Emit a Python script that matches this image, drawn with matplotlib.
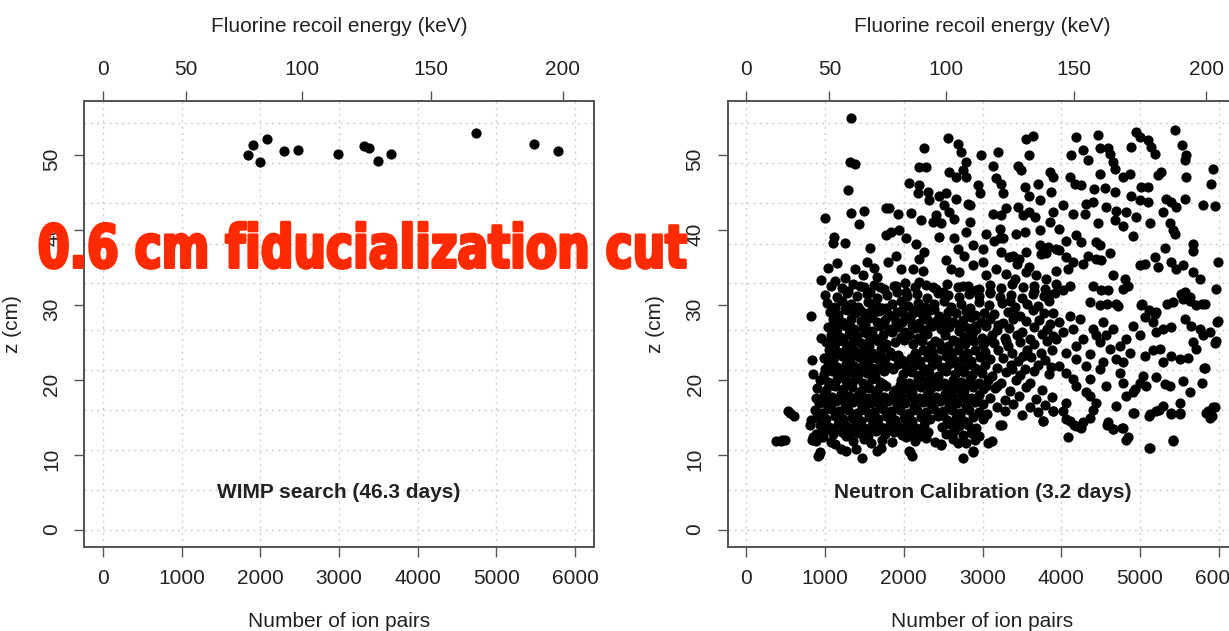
import matplotlib
matplotlib.use("Agg")
import matplotlib.pyplot as plt
import matplotlib.transforms as mtransforms
from matplotlib.textpath import TextPath
from matplotlib.patches import PathPatch
from matplotlib.font_manager import FontProperties
import numpy as np

# ---- data ----
wimp_ions = [1850, 1911, 2001, 2081, 2303, 2478, 2981, 3318, 3384, 3494, 3660, 4742, 5481, 5787]
wimp_z = [50.0, 51.4, 49.1, 52.1, 50.5, 50.7, 50.2, 51.2, 51.0, 49.2, 50.2, 53.0, 51.5, 50.5]

# top axis: recoil energy labels and the ion-pair positions where they sit
recoil_kev = [0, 50, 100, 150, 200]
recoil_ions = [0, 1055, 2531, 4163, 5845]

ion_ticks = [0, 1000, 2000, 3000, 4000, 5000, 6000]
z_ticks = [0, 10, 20, 30, 40, 50]
grid_z = [0, 5.34, 10.68, 16.0, 21.36, 26.7, 32.9, 38.2, 43.6, 48.9, 54.3]

wimp_label = "WIMP search (46.3 days)"
neutron_label = "Neutron Calibration (3.2 days)"
banner = "0.6 cm fiducialization cut"

# neutron calibration events (ion pairs, z cm)
neutron_upper_left = [
    (1325, 54.9), (1313, 49.1), (1376, 48.8), (1291, 45.4), (995, 41.6), (1325, 42.3),
    (1495, 42.6), (1427, 40.8), (1779, 42.9), (1109, 39.1), (1101, 38.3), (1257, 38.3),
    (1575, 37.6), (1779, 39.4), (1037, 34.9), (1156, 35.6), (1385, 34.8), (1533, 35.8),
    (1660, 33.7), (944, 33.4), (1291, 31.9), (1440, 32.6), (1567, 31.7), (1694, 32.4),
    (1250, 33.6), (1480, 34.0), (1120, 33.2), (1620, 35.0),
]
neutron_upper_mid = [
    (2559, 52.3), (2686, 51.5), (2729, 50.4), (2262, 51.0), (2983, 50.0), (3195, 50.4),
    (3555, 52.2), (3640, 52.6), (3597, 50.0), (2792, 49.1), (2750, 48.0), (2665, 47.1),
    (2580, 47.8), (2792, 47.1), (2199, 48.4), (2284, 48.4), (3131, 48.6), (3449, 48.6),
    (3491, 48.0), (3852, 47.8), (3894, 47.1), (3174, 46.9), (3237, 46.2), (3258, 44.9),
    (2940, 46.0), (2962, 44.9), (2072, 46.3), (2199, 46.0), (2178, 44.9), (2305, 45.1),
    (2326, 44.0), (2453, 44.6), (2538, 44.9), (2665, 44.2), (2813, 43.5), (3534, 45.7),
    (3703, 46.1), (3597, 44.6), (3725, 44.0), (3873, 45.1), (1817, 42.9), (1923, 42.2),
    (2093, 42.3), (2220, 41.3), (2411, 42.0), (2474, 40.9), (2517, 43.3), (2580, 42.4),
    (2644, 41.5), (2835, 43.3), (2835, 41.1), (2792, 39.7), (3131, 42.2), (3237, 42.0),
    (3301, 42.9), (3449, 43.1), (3513, 42.0), (3597, 42.4), (3661, 41.7), (3216, 40.2),
    (3258, 38.9), (3428, 39.5), (3534, 39.7), (3725, 40.0), (3852, 41.1), (3894, 42.4),
    (1839, 39.7), (1945, 40.0), (2029, 38.9), (2156, 38.2), (2262, 37.1), (2199, 36.2),
    (2368, 41.1), (2453, 39.1), (2644, 38.9), (2686, 37.5), (2771, 36.6), (2877, 38.0),
    (3004, 37.5), (1796, 35.7), (1902, 36.6), (1966, 34.8), (2114, 34.8), (2241, 34.6),
    (2538, 36.0), (2601, 34.8), (2707, 34.4), (2877, 35.3), (3004, 35.7), (3046, 34.0),
    (3216, 38.9), (3237, 37.1), (3385, 36.6), (3470, 36.2), (3555, 37.1), (3725, 38.0),
    (3809, 36.9), (3936, 37.5), (3174, 34.8), (3301, 34.2), (3407, 33.5), (3555, 34.4),
    (3682, 34.0), (3809, 33.5), (3936, 34.6), (2199, 33.1), (2368, 32.4), (2495, 31.7),
    (2750, 32.6), (2919, 32.0), (3089, 31.7), (1902, 32.6), (2029, 31.7), (3047, 39.5),
    (3146, 38.6), (3343, 36.4), (3442, 35.5), (3590, 35.1), (3738, 36.8), (3837, 37.7),
]
neutron_upper_right = [
    (4190, 52.4), (4466, 52.7), (4275, 50.7), (4127, 50.0), (4339, 49.4), (4487, 50.9),
    (4593, 51.0), (4614, 50.1), (4953, 53.1), (4996, 52.4), (4890, 51.1), (5101, 52.0),
    (5144, 51.1), (5186, 50.2), (5440, 53.4), (5538, 51.3), (5589, 50.0), (5568, 49.3),
    (4656, 49.1), (4678, 48.2), (4784, 47.1), (4868, 47.5), (4487, 47.5), (4106, 47.1),
    (4169, 46.2), (4254, 46.0), (5271, 47.8), (5228, 47.3), (5589, 47.1), (5928, 48.2),
    (5907, 46.1), (4423, 45.5), (4551, 45.6), (4678, 45.1), (4890, 44.6), (5017, 45.7),
    (5101, 45.7), (4996, 44.0), (5101, 43.8), (5335, 44.2), (5398, 43.7), (5462, 43.1),
    (5568, 44.2), (5801, 43.3), (5949, 43.2), (4021, 43.3), (4317, 43.5), (4402, 43.7),
    (4572, 43.1), (4699, 42.6), (4826, 42.4), (4953, 41.7), (4148, 42.2), (4296, 42.2),
    (4466, 41.0), (4678, 41.3), (4784, 40.6), (5123, 41.0), (5292, 42.4), (5377, 40.9),
    (5419, 40.0), (5440, 39.5), (4911, 39.2), (3978, 40.2), (4063, 38.6), (4190, 39.3),
    (4254, 38.4), (4445, 38.4), (4487, 38.0), (4614, 36.9), (4339, 36.6), (4445, 36.2),
    (4508, 36.0), (3978, 37.3), (4063, 36.4), (4148, 35.7), (4275, 35.5), (4084, 34.8),
    (5313, 37.6), (5674, 38.2), (5674, 37.2), (5186, 36.4), (5228, 35.1), (4996, 35.4),
    (5059, 35.5), (5398, 35.7), (5462, 34.8), (5546, 35.3), (5674, 34.4), (5758, 33.5),
    (5992, 35.7), (4656, 34.0), (4805, 33.5), (4847, 32.6), (4784, 32.2), (4402, 32.6),
    (4508, 32.0), (4593, 32.0), (4106, 32.6), (4021, 32.0), (5568, 31.7), (5631, 31.1),
    (5970, 32.2), (5640, 30.6), (5788, 30.2), (5343, 30.2), (5516, 31.5),
]
neutron_band = [
    (1000, 31.4), (1150, 31.1), (1280, 31.6), (1400, 31.2), (1530, 31.5), (1660, 31.0),
    (1790, 31.4), (1910, 31.7), (2040, 31.2), (2170, 31.5), (2300, 31.0), (2430, 31.6),
    (2560, 31.3), (2700, 31.1), (2830, 31.5), (2960, 31.2), (3090, 31.6), (3220, 31.1),
    (3360, 31.4), (3500, 31.0), (3640, 31.5), (3780, 31.2), (3920, 31.6),
    (1080, 32.6), (1210, 32.3), (1350, 32.8), (1490, 32.4), (1620, 32.7), (1750, 32.2),
    (1880, 32.6), (2010, 32.9), (2140, 32.4), (2280, 32.7), (2410, 32.2), (2550, 32.8),
    (2690, 32.4), (2820, 32.6), (2950, 32.1), (3090, 32.7), (3230, 32.3), (3370, 32.8),
    (3510, 32.4), (3650, 32.6), (3800, 32.2), (3936, 32.8), (3837, 31.5),
]
neutron_core = [
    (1020, 30.3), (1130, 29.8), (1210, 30.5), (1330, 30.1), (1420, 29.7), (1540, 30.4),
    (1650, 30.0), (1720, 29.6), (1850, 30.2), (1960, 30.6), (2050, 29.9), (2180, 30.3),
    (2270, 29.7), (2390, 30.1), (2510, 30.5), (2600, 29.8), (2730, 30.2), (2840, 29.6),
    (2950, 30.4), (3080, 30.0), (3250, 30.3), (3410, 29.7), (3560, 30.2), (3700, 29.9),
    (3850, 30.5),
    (1060, 29.1), (1170, 28.7), (1280, 29.3), (1380, 28.9), (1490, 29.0), (1600, 28.6),
    (1690, 29.2), (1800, 28.8), (1910, 29.1), (2010, 28.5), (2120, 29.0), (2230, 28.8),
    (2330, 29.3), (2450, 28.6), (2560, 29.1), (2660, 28.9), (2790, 29.2), (2900, 28.7),
    (3020, 29.0), (3150, 28.8), (3330, 29.1), (3480, 28.6), (3640, 29.3), (3780, 28.9),
    (3900, 29.0),
    (817, 28.5), (1100, 28.1), (1220, 27.8), (1330, 28.2), (1450, 27.9), (1560, 28.3),
    (1660, 27.7), (1760, 28.0), (1870, 28.4), (1980, 27.8), (2080, 28.1), (2190, 27.6),
    (2300, 28.2), (2410, 27.9), (2530, 28.3), (2630, 27.7), (2750, 28.0), (2860, 28.4),
    (2980, 27.8), (3100, 28.1), (3260, 27.6), (3390, 28.2), (3550, 27.9), (3720, 28.0),
    (3860, 27.5),
    (1040, 27.1), (1150, 26.8), (1260, 27.3), (1370, 26.9), (1480, 27.0), (1590, 26.6),
    (1700, 27.2), (1810, 26.8), (1920, 27.1), (2020, 26.5), (2140, 27.0), (2250, 26.7),
    (2360, 27.2), (2470, 26.9), (2580, 27.1), (2700, 26.6), (2810, 27.0), (2920, 26.8),
    (3040, 27.2), (3190, 26.7), (3340, 27.0), (3500, 26.5), (3650, 27.1), (3820, 26.8),
    (952, 25.6), (1080, 26.1), (1190, 25.8), (1300, 26.2), (1410, 25.9), (1520, 26.3),
    (1630, 25.7), (1740, 26.0), (1850, 26.4), (1960, 25.8), (2070, 26.1), (2180, 25.7),
    (2290, 26.2), (2520, 26.0), (2760, 25.8), (2870, 26.2), (2990, 25.7), (3120, 26.1),
    (3280, 25.6), (3440, 26.0), (3600, 25.5), (3760, 26.2), (3900, 25.9),
    (1010, 25.1), (1120, 24.8), (1230, 25.2), (1340, 24.9), (1450, 25.0), (1560, 24.6),
    (1670, 25.2), (1780, 24.8), (1890, 25.1), (2120, 24.9), (2230, 25.2), (2340, 24.7),
    (2450, 25.0), (2560, 24.6), (2670, 25.1), (2780, 24.8), (2890, 25.2), (3000, 24.7),
    (3150, 25.0), (3320, 24.6), (3480, 25.1), (3650, 24.8), (3820, 25.3),
    (1050, 24.1), (1160, 23.8), (1270, 24.2), (1380, 23.9), (1490, 24.0), (1600, 23.6),
    (1710, 24.2), (1820, 23.8), (2140, 23.7), (2250, 24.1), (2360, 23.8), (2470, 24.2),
    (2580, 23.9), (2690, 24.0), (2800, 23.6), (2910, 24.1), (3030, 23.8), (3200, 24.0),
    (3380, 23.7), (3560, 24.1), (3740, 23.6), (3880, 24.0),
    (990, 23.0), (1100, 22.7), (1210, 23.2), (1320, 22.9), (1430, 23.1), (1540, 22.6),
    (1650, 23.0), (1760, 22.8), (1870, 23.2), (1980, 22.7), (2090, 23.0), (2200, 22.6),
    (2310, 23.1), (2420, 22.8), (2530, 23.2), (2640, 22.7), (2750, 23.0), (2860, 22.6),
    (2970, 23.1), (3100, 22.8), (3260, 23.0), (3450, 22.6), (3620, 23.1), (3800, 22.7),
    (838, 22.7), (1040, 22.1), (1150, 21.8), (1260, 22.2), (1370, 21.9), (1480, 22.0),
    (1590, 21.6), (1700, 22.1), (1810, 21.8), (1920, 22.2), (2030, 21.9), (2140, 22.0),
    (2250, 21.6), (2360, 22.1), (2470, 21.8), (2580, 22.2), (2690, 21.9), (2800, 22.0),
    (2910, 21.6), (3030, 22.1), (3180, 21.7), (3360, 22.0), (3540, 21.5), (3700, 22.1),
    (3870, 21.8),
    (846, 20.8), (980, 20.9), (1090, 21.2), (1200, 20.8), (1310, 21.1), (1420, 20.7),
    (1530, 21.0), (1640, 20.6), (1750, 21.2), (1990, 20.8), (2100, 21.1), (2210, 20.7),
    (2320, 21.0), (2430, 20.6), (2540, 21.2), (2650, 20.8), (2760, 21.1), (2870, 20.7),
    (2990, 21.0), (3120, 20.6), (3300, 21.1), (3480, 20.7), (3660, 21.2), (3840, 20.8),
    (930, 20.1), (1040, 19.8), (1150, 20.2), (1260, 19.9), (1370, 20.0), (1480, 19.6),
    (1590, 20.2), (1700, 19.8), (1960, 20.1), (2070, 19.7), (2180, 20.2), (2290, 19.9),
    (2400, 20.0), (2510, 19.6), (2620, 20.1), (2730, 19.8), (2840, 20.2), (2950, 19.7),
    (3070, 20.0), (3240, 19.6), (3420, 20.1), (3600, 19.7),
    (900, 19.0), (1010, 18.7), (1120, 19.2), (1230, 18.9), (1340, 19.1), (1450, 18.6),
    (1560, 19.0), (1670, 18.8), (1780, 19.2), (1890, 18.7), (2000, 19.0), (2110, 18.6),
    (2220, 19.1), (2330, 18.8), (2440, 19.2), (2550, 18.7), (2660, 19.0), (2770, 18.6),
    (2880, 19.1), (3000, 18.8), (3160, 19.0), (3350, 18.6), (3550, 19.1), (3760, 18.7),
    (880, 17.6), (980, 18.1), (1090, 17.8), (1200, 18.2), (1310, 17.9), (1420, 18.0),
    (1530, 17.6), (1640, 18.1), (1750, 17.8), (1860, 18.2), (1970, 17.9), (2080, 18.0),
    (2190, 17.6), (2300, 18.1), (2410, 17.8), (2520, 18.2), (2630, 17.9), (2740, 18.0),
    (2850, 17.6), (2960, 18.1), (3090, 17.7), (3280, 17.4), (3470, 17.9), (3680, 17.5),
    (3880, 17.8),
    (920, 17.0), (1030, 16.7), (1140, 17.2), (1250, 16.9), (1360, 17.1), (1470, 16.6),
    (1580, 17.0), (1690, 16.8), (1800, 17.2), (1910, 16.7), (2020, 17.0), (2130, 16.6),
    (2240, 17.1), (2350, 16.8), (2460, 17.2), (2570, 16.7), (2680, 17.0), (2790, 16.6),
    (2900, 17.1), (3010, 16.8), (3180, 16.5), (3390, 16.9), (3600, 16.4), (3800, 16.7),
    (870, 16.1), (960, 15.7), (1070, 16.2), (1180, 15.9), (1290, 16.0), (1400, 15.6),
    (1510, 16.1), (1620, 15.8), (1730, 16.2), (1840, 15.9), (1950, 16.0), (2060, 15.6),
    (2170, 16.1), (2280, 15.8), (2390, 16.2), (2500, 15.9), (2610, 16.0), (2720, 15.6),
    (2830, 16.1), (2950, 15.8), (3060, 15.5), (3280, 15.9), (3500, 15.4), (3700, 15.8),
    (3894, 15.9),
    (530, 15.9), (600, 15.3), (550, 15.7), (820, 14.7), (900, 15.1), (1010, 14.8),
    (1120, 15.2), (1230, 14.9), (1340, 15.0), (1450, 14.6), (1560, 15.1), (1670, 14.8),
    (1780, 15.2), (1890, 14.7), (2000, 15.0), (2110, 14.6), (2220, 15.1), (2330, 14.8),
    (2440, 15.2), (2550, 14.7), (2660, 15.0), (2770, 14.6), (2880, 15.1), (3000, 14.8),
    (3216, 14.1), (3767, 14.6),
    (804, 14.1), (940, 14.1), (1050, 13.8), (1160, 14.2), (1270, 13.9), (1380, 14.0),
    (1490, 13.6), (1600, 14.1), (1710, 13.8), (1820, 14.2), (1930, 13.9), (2040, 14.0),
    (2150, 13.6), (2260, 14.1), (2480, 13.8), (2590, 14.2), (2700, 13.9), (2810, 14.0),
    (2920, 13.6), (3245, 14.0),
    (880, 12.9), (990, 13.2), (1100, 12.8), (1210, 13.1), (1320, 12.7), (1430, 13.0),
    (1540, 12.6), (1650, 13.2), (1760, 12.8), (1870, 13.1), (1980, 12.7), (2090, 13.0),
    (2200, 12.6), (2310, 13.1), (2530, 12.8), (2640, 13.2), (2750, 12.7), (2860, 13.0),
    (2960, 12.6),
    (380, 11.9), (454, 12.0), (444, 11.9), (486, 12.1), (849, 12.4), (838, 12.1),
    (889, 11.9), (974, 12.4), (1080, 11.8), (1270, 12.6), (1350, 11.9), (1500, 12.2),
    (1580, 11.7), (1720, 12.1), (1850, 11.8), (2029, 12.4), (2140, 11.9), (2280, 12.3),
    (2400, 11.8), (2479, 11.4), (2620, 12.2), (2686, 11.7), (2792, 11.7), (2900, 12.1),
    (3071, 11.7), (3121, 11.9),
    (923, 10.1), (908, 9.9), (931, 10.4), (1121, 11.5), (1207, 10.8), (1269, 10.6),
    (1397, 10.8), (1467, 9.7), (1664, 10.6), (1713, 11.0), (2072, 10.6), (2084, 10.4),
    (2109, 9.9), (2474, 11.5), (2751, 9.7), (2874, 10.4), (2877, 10.6),
]
# extra events in the solid black middle of the cloud
neutron_core_fill = [
    (1090, 29.6), (1250, 29.5), (1440, 29.4), (1600, 29.5), (1780, 29.6), (1980, 29.4),
    (2160, 29.5), (2380, 29.5), (2600, 29.4), (2820, 29.3), (1130, 27.5), (1300, 27.6),
    (1510, 27.4), (1720, 27.5), (1900, 27.6), (2100, 27.4), (2330, 27.5), (2520, 27.6),
    (2700, 27.4), (2900, 27.3), (1120, 25.4), (1350, 25.5), (1560, 25.3), (1700, 25.5),
    (2000, 25.4), (2200, 25.5), (2400, 25.3), (2620, 25.4), (2830, 25.5), (3050, 25.3),
    (1100, 23.4), (1300, 23.5), (1500, 23.3), (1700, 23.5), (1930, 23.4), (2150, 23.5),
    (2370, 23.3), (2600, 23.4), (2800, 23.5), (3000, 23.4), (1000, 21.5), (1200, 21.4),
    (1420, 21.5), (1640, 21.4), (1860, 21.5), (2080, 21.3), (2300, 21.4), (2520, 21.5),
    (2740, 21.3), (2950, 21.4), (1100, 19.4), (1300, 19.5), (1510, 19.3), (1730, 19.5),
    (1950, 19.4), (2170, 19.5), (2390, 19.3), (2600, 19.4), (2820, 19.5), (3040, 19.3),
    (1030, 17.4), (1250, 17.5), (1470, 17.3), (1690, 17.5), (1910, 17.4), (2130, 17.5),
    (2350, 17.3), (2570, 17.4), (2790, 17.5), (970, 15.4), (1180, 15.5), (1400, 15.3),
    (1620, 15.5), (1840, 15.4), (2060, 15.5), (2280, 15.3), (2500, 15.4), (2720, 15.5),
    (1100, 13.4), (1320, 13.5), (1540, 13.3), (1760, 13.5), (1980, 13.4), (2200, 13.4),
    (2640, 13.5), (3200, 27.4), (3420, 28.6), (3300, 25.2), (3520, 23.2), (3380, 21.5),
    (3180, 19.3), (3350, 30.6), (3650, 31.9),
]
neutron_right = [
    (4360, 30.4), (4487, 30.0), (4699, 30.2), (5017, 30.0), (5059, 28.4), (5207, 29.1),
    (5419, 30.4), (5546, 30.8), (5716, 30.0), (5822, 30.2), (5992, 27.9), (4911, 27.3),
    (4996, 26.0), (5165, 27.7), (5207, 26.4), (5292, 26.8), (5398, 27.1), (5568, 28.2),
    (5652, 27.3), (5758, 26.8), (5801, 26.0), (5885, 26.4), (5970, 25.3), (5059, 23.3),
    (5165, 24.0), (5250, 24.2), (5292, 22.4), (5398, 23.3), (5504, 22.8), (5610, 23.0),
    (5674, 25.1), (5716, 24.2), (5822, 21.7), (5546, 19.9), (5313, 19.5), (5377, 19.3),
    (5207, 20.4), (5080, 19.3), (5038, 20.6), (4932, 18.8), (5631, 18.4), (5504, 17.0),
    (5398, 15.7), (5504, 15.6), (5292, 16.6), (5207, 15.9), (5123, 15.5), (4911, 15.7),
    (5843, 15.7), (5928, 16.4), (5885, 15.0), (4063, 17.0), (4021, 15.9), (4106, 14.6),
    (4190, 13.9), (4275, 14.4), (4360, 15.0), (4402, 16.1), (4360, 17.9), (4317, 18.4),
    (4445, 17.0), (4572, 19.3), (4699, 16.6), (4593, 14.4), (4656, 13.5), (4784, 13.7),
    (4826, 12.1), (4084, 12.4), (5123, 11.0), (5419, 12.1), (3978, 21.9), (4063, 21.0),
    (4148, 20.2), (4190, 19.3), (4360, 20.2), (4487, 21.5), (4784, 19.7), (4826, 17.9),
    (4911, 18.4), (4996, 19.7), (3936, 25.5), (4063, 23.7), (4190, 22.8), (4360, 23.5),
    (4487, 25.1), (4614, 24.2), (4741, 24.6), (4826, 25.5), (4656, 26.8), (4529, 27.7),
    (4402, 26.8), (4233, 28.2), (4106, 28.6), (3978, 27.7), (4021, 26.4), (4148, 26.8),
    (4275, 25.5), (4445, 26.0), (4572, 26.0), (4699, 22.8), (4529, 22.4), (4317, 21.9),
    (4190, 24.6), (4784, 22.4), (4868, 23.7), (4741, 21.0), (4727, 29.9), (4579, 30.2),
    (5023, 30.2), (5121, 29.3), (5195, 28.8), (5812, 21.7), (5787, 19.7), (5985, 27.7),
    (5960, 25.0), (5861, 15.9), (5911, 15.3), (5960, 16.4), (4059, 14.8), (4158, 14.1),
    (4256, 13.7), (4578, 14.1), (4652, 13.5), (4776, 13.7), (4850, 12.4), (5121, 11.0),
    (5417, 11.9), (4924, 15.7), (5121, 15.3), (5244, 16.1), (5392, 15.5), (5515, 15.5),
    (3894, 15.9), (3763, 14.6),
]

TEXT = "#222222"
AXIS = "#555555"
GRID = "#cfcfcf"

plt.rcParams["font.family"] = ["Liberation Sans", "DejaVu Sans"]

W, H = 1229, 631
fig = plt.figure(figsize=(W / 100, H / 100), dpi=100)
fig.patch.set_facecolor("white")

# axes rectangles, in pixels of the reference: left, bottom edge, width, height
panels = [(84, 547, 510, 446), (727.5, 547, 510, 446)]


def draw_panel(rect, ions, zs, label):
    l, b, w, h = rect
    ax = fig.add_axes([l / W, 1 - b / H, w / W, h / H])
    ax.set_xlim(-240, 6240)
    ax.set_ylim(-2.2, 57.2)
    for x in ion_ticks:
        ax.axvline(x, color=GRID, lw=1, ls=(0, (1.5, 3)), zorder=0)
    for y in grid_z:
        ax.axhline(y, color=GRID, lw=1, ls=(0, (1.5, 3)), zorder=0)
    ax.scatter(ions, zs, s=54, c="black", linewidths=0, zorder=3)
    ax.text(3000, 5, label, ha="center", va="center", fontsize=15,
            fontweight="bold", color=TEXT, zorder=4)
    ax.set_xticks(ion_ticks)
    ax.set_yticks(z_ticks)
    ax.tick_params(direction="out", length=7.5, width=1, color=AXIS,
                   labelsize=15, labelcolor=TEXT, pad=8)
    ax.tick_params(axis="y", labelrotation=90, pad=9)
    for sp in ax.spines.values():
        sp.set_color(AXIS)
        sp.set_linewidth(1.4)

    top = ax.twiny()
    top.set_xlim(ax.get_xlim())
    top.set_xticks(recoil_ions)
    top.set_xticklabels([str(k) for k in recoil_kev])
    top.tick_params(direction="out", length=7.5, width=1, color=AXIS,
                    labelsize=15, labelcolor=TEXT, pad=8)
    for sp in top.spines.values():
        sp.set_color(AXIS)
        sp.set_linewidth(1.4)

    cx = (l + w / 2) / W
    fig.text(cx, 1 - 26.7 / H, "Fluorine recoil energy (keV)", ha="center",
             va="center", fontsize=15, color=TEXT)
    fig.text(cx, 1 - 621.7 / H, "Number of ion pairs", ha="center",
             va="center", fontsize=15, color=TEXT)
    fig.text((l - 72) / W, 1 - 324 / H, "z (cm)", rotation=90, ha="center",
             va="center", fontsize=15, color=TEXT)
    return ax


neutron = neutron_upper_left + neutron_upper_mid + neutron_upper_right + \
    neutron_band + neutron_core + neutron_core_fill + neutron_right
n_ions = [p[0] for p in neutron]
n_z = [p[1] for p in neutron]

draw_panel(panels[0], wimp_ions, wimp_z, wimp_label)
draw_panel(panels[1], n_ions, n_z, neutron_label)

# big red overlay caption, squeezed to the condensed look of the original
fp = FontProperties(family="DejaVu Sans", weight="bold")
tp = TextPath((0, 0), banner, size=1, prop=fp)
digit_h = TextPath((0, 0), "0", size=1, prop=fp).get_extents().height
ext = tp.get_extents()
sx = (646 / W) / ext.width
sy = (45 / H) / digit_h
tr = mtransforms.Affine2D().scale(sx, sy).translate(40 / W - ext.x0 * sx, 1 - 267.5 / H)
patch = PathPatch(tp, transform=tr + fig.transFigure, fc="#ff2a00",
                  ec="#ff2a00", lw=2.2, joinstyle="round", zorder=10)
fig.add_artist(patch)

fig.savefig("out.png", dpi=100, facecolor="white")
